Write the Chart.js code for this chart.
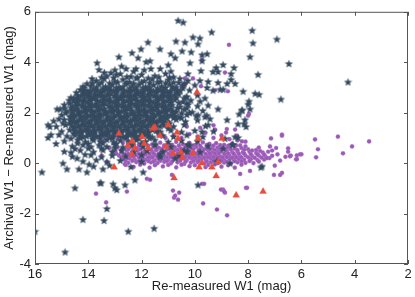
<!DOCTYPE html>
<html>
<head>
<meta charset="utf-8">
<script src="https://cdn.jsdelivr.net/npm/chart.js@4.4.0/dist/chart.umd.min.js"></script>
<style>
  html, body { margin: 0; padding: 0; background: #fff; }
  #plot { display: block; }
</style>
</head>
<body>
<canvas id="plot" width="415" height="297"></canvas>
<script>
// W1 photometry comparison: archival vs re-measured magnitudes
// three groups: stars (dark), re-measured sources (purple), flagged (red triangles)

const xTicks = [16, 14, 12, 10, 8, 6, 4, 2];
const yTicks = [-4, -2, 0, 2, 4, 6];
const xTitle = 'Re-measured W1 (mag)';
const yTitle = 'Archival W1 \u2212 Re-measured W1 (mag)';

// sparse stars around the main cloud
const starOutliers = [
  [10.63,5.66],[10.44,5.59],[9.37,5.2],[7.85,5.27],[7.82,4.77],[6.92,4.92],[10.71,4.84],[10.37,4.8],[10.07,5.0],[9.81,4.96],
  [9.88,4.73],[11.31,4.53],[10.48,4.45],[10.9,4.34],[10.74,4.18],[9.73,4.3],[9.54,4.34],[10.14,4.41],[10.18,3.98],[9.73,4.06],
  [8.94,3.91],[9.2,3.79],[8.53,3.79],[8.64,3.55],[9.32,3.63],[9.13,3.63],[7.93,4.22],[6.47,3.95],[7.63,3.52],[4.25,3.22],
  [8.64,3.32],[8.49,3.16],[8.79,3.16],[9.13,3.2],[8.94,2.93],[9.05,2.93],[9.5,3.24],[9.81,3.28],[9.54,3.0],[9.32,2.89],
  [8.19,2.85],[7.74,2.77],[7.59,2.73],[6.77,2.54],[7.97,2.46],[8.23,2.1],[8.34,1.95],[8.12,1.72],[8.79,1.72],[8.15,1.56],
  [8.38,1.02],[8.87,0.98],[9.62,2.58],[10.33,2.62],[10.44,3.09],[10.56,3.36],[10.26,3.28],[10.26,3.55],[9.77,3.67],
  [11.76,4.8],[12.02,4.53],[12.36,4.38],[12.13,4.18],[12.85,4.22],[11.83,4.02],[11.68,4.06],[13.67,3.98],[13.6,3.71],[11.65,3.75],
  [12.21,3.75],[12.58,3.75],[13.15,3.59],[12.95,3.52],[13.86,3.36],[14.05,3.16],[14.2,3.05],[14.01,2.81],[14.54,2.58],[14.72,2.5],
  [15.74,-0.35],[15.17,2.15],[15.06,2.15],[14.9,2.18],[15.51,1.52],[15.44,1.45],[15.51,1.02],[15.21,0.78],[15.4,1.13],[15.1,1.13],
  [15.1,1.76],[14.69,1.84],[14.95,0.0],[14.8,-0.23],[14.65,0.43],[14.42,0.2],[14.35,-0.23],[14.05,-0.35],[14.12,0.35],[13.97,-0.04],
  [13.45,-0.23],[13.52,-0.78],[14.5,-0.98],[13.0,-0.98],[12.25,-0.66],[11.94,-0.35],[13.07,-0.82],[12.93,-1.05],[12.62,-0.86],[13.56,-0.78],
  [14.2,-2.23],[13.41,-2.27],[13.3,-1.8],[14.87,-3.52],[16.0,-2.7],[12.5,-2.7],[11.53,-2.58],
  [9.13,2.15],[8.23,2.11],[7.93,2.15],[8.0,2.34],[8.38,1.56],[8.08,1.45],[8.49,1.05],[8.6,0.74],[7.48,-0.12],[9.17,0.08],
  [8.68,0.0],[9.43,1.76],[9.62,1.84],[9.88,1.91],[9.5,1.52],[9.73,1.25],[10.26,0.74],[10.29,0.47],[10.74,0.2],[11.31,0.35],
  [9.88,-0.86],[8.94,0.59],[8.57,0.74],[7.52,-0.16],
  [13.0,3.7],[12.3,3.65],[11.3,3.75],[11.0,3.9],[10.9,3.65],[12.75,3.85],[13.4,3.6],[11.9,3.7]
];

// dense core of the star cloud
const starCore = [
  [13.3,3.46],[12.8,3.55],[12.4,3.44],[12.0,3.52],[11.5,3.47],[11.1,3.56],[10.8,3.42],
  [13.7,3.28],[13.4,3.36],[13.0,3.25],[12.7,3.33],[12.45,3.22],[12.2,3.38],[11.9,3.27],[11.6,3.34],[11.3,3.24],[11.0,3.31],[10.6,3.2],
  [13.9,3.08],[13.6,3.14],[13.35,3.04],[13.1,3.12],[12.85,3.02],[12.6,3.15],[12.35,3.06],[12.1,3.13],[11.85,3.03],[11.55,3.11],[11.25,3.05],[10.95,3.14],[10.7,3.02],[10.0,3.1],
  [14.3,2.92],[14.05,2.86],[13.8,2.95],[13.55,2.84],[13.3,2.93],[13.05,2.87],[12.8,2.96],[12.55,2.85],[12.3,2.91],[12.05,2.83],[11.8,2.94],[11.55,2.86],[11.3,2.92],[11.05,2.84],[10.8,2.95],[10.55,2.87],[10.2,2.9],
  [14.4,2.68],[14.15,2.74],[13.9,2.64],[13.65,2.72],[13.4,2.66],[13.15,2.75],[12.9,2.63],[12.65,2.71],[12.4,2.67],[12.15,2.76],[11.9,2.65],[11.65,2.73],[11.4,2.62],[11.15,2.7],[10.9,2.66],[10.6,2.74],[10.3,2.64],[9.9,2.7],
  [14.55,2.47],[14.3,2.53],[14.05,2.44],[13.8,2.55],[13.55,2.46],[13.3,2.52],[13.05,2.43],[12.8,2.56],[12.55,2.48],[12.3,2.54],[12.05,2.45],[11.8,2.51],[11.55,2.42],[11.3,2.55],[11.05,2.47],[10.75,2.53],[10.45,2.44],[10.15,2.5],[9.8,2.46],
  [14.9,2.32],[14.6,2.26],[14.35,2.34],[14.1,2.24],[13.85,2.31],[13.6,2.27],[13.35,2.35],[13.1,2.23],[12.85,2.33],[12.6,2.25],[12.35,2.36],[12.1,2.28],[11.85,2.32],[11.6,2.22],[11.35,2.34],[11.1,2.26],[10.85,2.31],[10.55,2.24],[10.25,2.33],[9.9,2.27],[9.5,2.3],
  [14.8,2.06],[14.5,2.13],[14.25,2.04],[14.0,2.12],[13.75,2.05],[13.5,2.14],[13.25,2.03],[13.0,2.11],[12.75,2.06],[12.5,2.15],[12.25,2.02],[12.0,2.1],[11.75,2.07],[11.5,2.13],[11.25,2.04],[11.0,2.12],[10.7,2.05],[10.4,2.14],[10.1,2.03],[9.7,2.09],
  [15.0,1.92],[14.65,1.86],[14.4,1.94],[14.15,1.84],[13.9,1.91],[13.65,1.87],[13.4,1.95],[13.15,1.83],[12.9,1.93],[12.65,1.85],[12.4,1.96],[12.15,1.88],[11.9,1.92],[11.65,1.82],[11.4,1.94],[11.15,1.86],[10.9,1.91],[10.6,1.84],[10.3,1.93],[9.95,1.87],[9.55,1.9],
  [15.3,1.68],[14.9,1.73],[14.55,1.65],[14.3,1.72],[14.05,1.64],[13.8,1.74],[13.55,1.66],[13.3,1.71],[13.05,1.63],[12.8,1.75],[12.55,1.67],[12.3,1.72],[12.05,1.64],[11.8,1.73],[11.55,1.66],[11.3,1.7],[11.0,1.63],[10.7,1.74],[10.35,1.66],[9.9,1.71],
  [15.2,1.46],[14.85,1.53],[14.5,1.44],[14.25,1.52],[14.0,1.45],[13.75,1.54],[13.5,1.43],[13.25,1.51],[13.0,1.47],[12.75,1.55],[12.5,1.42],[12.25,1.5],[12.0,1.46],[11.75,1.53],[11.45,1.44],[11.15,1.51],[10.8,1.46],[10.4,1.53],[9.6,1.48],
  [15.0,1.27],[14.7,1.33],[14.4,1.24],[14.15,1.32],[13.9,1.26],[13.65,1.35],[13.4,1.23],[13.15,1.31],[12.9,1.27],[12.65,1.34],[12.4,1.22],[12.15,1.3],[11.9,1.26],[11.6,1.33],[11.3,1.25],[10.9,1.31],[10.5,1.24],[10.0,1.3],[9.3,1.27],
  [14.8,1.08],[14.5,1.12],[14.2,1.04],[13.95,1.13],[13.7,1.06],[13.45,1.11],[13.2,1.03],[12.95,1.14],[12.7,1.05],[12.45,1.12],[12.2,1.07],[11.9,1.13],[11.6,1.04],[11.2,1.1],[10.8,1.06],[10.3,1.12],[9.7,1.05],
  [14.9,0.88],[14.4,0.93],[14.1,0.85],[13.8,0.92],[13.55,0.86],[13.3,0.94],[13.05,0.84],[12.8,0.91],[12.5,0.87],[12.2,0.93],[11.85,0.86],[11.5,0.92],[11.0,0.85],[10.5,0.9],[9.9,0.87],
  [14.6,0.68],[14.2,0.73],[13.9,0.65],[13.6,0.72],[13.3,0.66],[13.0,0.74],[12.7,0.64],[12.35,0.71],[11.95,0.67],[11.5,0.73],[10.9,0.66],[10.2,0.71],[9.5,0.68],
  [14.9,0.47],[14.3,0.52],[13.8,0.45],[13.45,0.53],[13.1,0.46],[12.75,0.51],[12.3,0.44],[11.8,0.5],[11.2,0.47],[10.4,0.52],[9.8,0.45],
  [14.6,0.27],[13.9,0.33],[13.5,0.25],[13.1,0.31],[12.6,0.28],[12.0,0.33],[11.3,0.26],[10.6,0.3],
  [14.2,0.08],[13.7,0.13],[13.3,0.05],[12.8,0.11],[12.0,0.07],
  [13.8,-0.12],[13.2,-0.08],[12.4,-0.14]
];

// stars filling the gaps between the core rows
const starFill = [
  [14.2,2.79],[13.75,2.82],[13.25,2.78],[12.7,2.81],[12.2,2.77],[11.7,2.83],[11.2,2.8],
  [14.4,2.6],[13.95,2.57],[13.45,2.62],[12.95,2.58],[12.45,2.63],[11.95,2.59],[11.45,2.61],[10.95,2.57],
  [14.7,2.38],[14.2,2.41],[13.7,2.37],[13.2,2.42],[12.7,2.39],[12.2,2.36],[11.7,2.41],[11.2,2.38],[10.6,2.4],
  [14.4,2.18],[13.9,2.21],[13.4,2.17],[12.9,2.2],[12.4,2.22],[11.9,2.18],[11.4,2.21],[10.9,2.17],
  [14.6,1.99],[14.1,2.01],[13.6,1.98],[13.1,2.02],[12.6,1.99],[12.1,2.01],[11.6,1.97],[11.1,2.02],[10.5,1.99],
  [14.3,1.79],[13.8,1.81],[13.3,1.78],[12.8,1.82],[12.3,1.79],[11.8,1.81],[11.3,1.78],[10.8,1.8],
  [14.7,1.6],[14.2,1.58],[13.7,1.61],[13.2,1.59],[12.7,1.62],[12.2,1.58],[11.7,1.6],[11.2,1.61],
  [14.3,1.39],[13.8,1.41],[13.3,1.38],[12.8,1.42],[12.3,1.39],[11.8,1.41],
  [14.0,1.2],[13.5,1.18],[13.0,1.21],[12.5,1.19],[12.0,1.2],
  [13.5,3.41],[13.05,3.39],[12.55,3.43],[12.15,3.4],[11.75,3.38],[11.35,3.42],[10.95,3.4],
  [13.85,3.19],[13.5,3.21],[13.2,3.18],[12.9,3.22],[12.55,3.2],[12.3,3.17],[12.0,3.21],[11.7,3.19],[11.4,3.22],[11.1,3.18],[10.8,3.21],[10.4,3.16],
  [14.15,3.0],[13.7,3.02],[13.45,2.98],[13.2,3.01],[12.95,2.99],[12.7,3.03],[12.45,2.98],[12.2,3.01],[11.95,2.99],[11.7,3.02],[11.4,2.98],[11.1,3.0],[10.85,3.03],[10.45,2.99],
  [14.45,2.81],[13.95,2.78],[13.5,2.8],[12.95,2.79],[12.45,2.82],[11.95,2.78],[11.45,2.81],[10.95,2.79],[10.7,2.8],
  [14.65,2.61],[14.15,2.59],[13.7,2.6],[13.2,2.58],[12.7,2.61],[12.2,2.6],[11.7,2.59],[11.2,2.62],[10.7,2.6],[10.4,2.58],
  [14.45,2.4],[13.95,2.38],[13.45,2.41],[12.95,2.39],[12.45,2.4],[11.95,2.42],[11.45,2.39],[10.9,2.41],[10.3,2.38],
  [14.65,2.2],[14.15,2.19],[13.65,2.21],[13.15,2.18],[12.65,2.2],[12.15,2.19],[11.65,2.21],[11.15,2.18],[10.65,2.2],[10.3,2.19],
  [14.85,2.0],[14.35,1.98],[13.85,2.02],[13.35,1.99],[12.85,2.01],[12.35,1.98],[11.85,2.0],[11.35,2.01],[10.8,1.98],[10.2,2.0],
  [14.55,1.8],[14.05,1.82],[13.55,1.79],[13.05,1.81],[12.55,1.8],[12.05,1.78],[11.55,1.81],[11.05,1.79],[10.5,1.8],
  [14.95,1.59],[14.45,1.61],[13.95,1.6],[13.45,1.58],[12.95,1.61],[12.45,1.6],[11.95,1.59],[11.45,1.6],[10.95,1.58],
  [14.55,1.4],[14.05,1.38],[13.55,1.41],[13.05,1.39],[12.55,1.41],[12.05,1.38],[11.55,1.4],[11.0,1.39],
  [14.55,1.19],[14.25,1.21],[13.75,1.2],[13.25,1.19],[12.75,1.21],[12.25,1.18],[11.75,1.2],[11.35,1.19],
  [14.65,0.99],[14.3,1.01],[13.85,0.98],[13.55,1.0],[13.1,0.99],[12.6,1.01],[12.1,0.98],[11.7,1.0],
  [14.4,0.8],[14.0,0.78],[13.45,0.81],[12.95,0.79],[12.45,0.8],[12.0,0.79],
  [14.5,0.58],[14.0,0.6],[13.5,0.59],[13.0,0.61]
];

// darkest part of the cloud, between the other rows
const starDense = [
  [14.17,2.9],[13.92,2.88],[13.67,2.91],[13.42,2.89],[13.17,2.92],[12.92,2.88],[12.67,2.9],[12.42,2.87],[12.17,2.91],[11.92,2.89],[11.67,2.92],[11.42,2.88],[11.17,2.9],[10.92,2.87],[10.67,2.91],
  [14.27,2.7],[14.02,2.68],[13.77,2.71],[13.52,2.69],[13.27,2.72],[13.02,2.68],[12.77,2.7],[12.52,2.67],[12.27,2.71],[12.02,2.69],[11.77,2.72],[11.52,2.68],[11.27,2.7],[11.02,2.67],[10.77,2.71],
  [14.42,2.5],[14.17,2.48],[13.92,2.51],[13.67,2.49],[13.42,2.52],[13.17,2.48],[12.92,2.5],[12.67,2.47],[12.42,2.51],[12.17,2.49],[11.92,2.52],[11.67,2.48],[11.42,2.5],[11.17,2.47],[10.9,2.51],
  [14.47,2.3],[14.22,2.28],[13.97,2.31],[13.72,2.29],[13.47,2.32],[13.22,2.28],[12.97,2.3],[12.72,2.27],[12.47,2.31],[12.22,2.29],[11.97,2.32],[11.72,2.28],[11.47,2.3],[11.22,2.27],[10.97,2.31],
  [14.62,2.1],[14.37,2.08],[14.12,2.11],[13.87,2.09],[13.62,2.12],[13.37,2.08],[13.12,2.1],[12.87,2.07],[12.62,2.11],[12.37,2.09],[12.12,2.12],[11.87,2.08],[11.62,2.1],[11.37,2.07],[11.12,2.11],[10.85,2.09],
  [14.52,1.9],[14.27,1.88],[14.02,1.91],[13.77,1.89],[13.52,1.92],[13.27,1.88],[13.02,1.9],[12.77,1.87],[12.52,1.91],[12.27,1.89],[12.02,1.92],[11.77,1.88],[11.52,1.9],[11.27,1.87],[11.02,1.91],[10.75,1.89],
  [14.67,1.7],[14.42,1.68],[14.17,1.71],[13.92,1.69],[13.67,1.72],[13.42,1.68],[13.17,1.7],[12.92,1.67],[12.67,1.71],[12.42,1.69],[12.17,1.72],[11.92,1.68],[11.67,1.7],[11.42,1.67],[11.15,1.71],
  [14.62,1.5],[14.37,1.48],[14.12,1.51],[13.87,1.49],[13.62,1.52],[13.37,1.48],[13.12,1.5],[12.87,1.47],[12.62,1.51],[12.37,1.49],[12.12,1.52],[11.87,1.48],[11.6,1.5],[11.3,1.47],
  [14.52,1.3],[14.27,1.28],[14.02,1.31],[13.77,1.29],[13.52,1.32],[13.27,1.28],[13.02,1.3],[12.77,1.27],[12.52,1.31],[12.27,1.29],[12.02,1.32],[11.75,1.28],[11.45,1.3],
  [14.32,1.1],[14.07,1.08],[13.82,1.11],[13.57,1.09],[13.32,1.12],[13.07,1.08],[12.82,1.1],[12.57,1.07],[12.32,1.11],[12.05,1.09],[11.75,1.1]
];

// purple band of re-measured sources
const purpleBand = [
  [12.7,0.8],[12.3,0.76],[11.9,0.83],[11.6,0.74],[11.3,0.81],[11.0,0.77],[10.7,0.84],[10.45,0.75],[10.2,0.8],[9.95,0.73],[9.7,0.82],[9.45,0.76],[9.2,0.79],[8.9,0.72],[8.6,0.77],[8.3,0.7],
  [12.9,0.63],[12.6,0.59],[12.4,0.66],[12.15,0.6],[11.95,0.64],[11.75,0.57],[11.55,0.65],[11.35,0.61],[11.15,0.67],[10.95,0.58],[10.75,0.63],[10.55,0.6],[10.35,0.66],[10.15,0.59],[9.95,0.64],[9.75,0.61],[9.55,0.65],[9.35,0.58],[9.15,0.62],[8.95,0.6],[8.75,0.63],[8.5,0.57],[8.25,0.6],[8.0,0.55],[7.7,0.52],
  [13.0,0.47],[12.75,0.44],[12.55,0.49],[12.35,0.45],[12.15,0.5],[11.95,0.43],[11.8,0.48],[11.6,0.46],[11.45,0.51],[11.25,0.44],[11.1,0.48],[10.9,0.45],[10.75,0.5],[10.55,0.43],[10.4,0.47],[10.2,0.49],[10.05,0.44],[9.85,0.48],[9.7,0.45],[9.5,0.5],[9.35,0.43],[9.15,0.47],[9.0,0.45],[8.8,0.49],[8.6,0.44],[8.4,0.46],[8.2,0.43],[7.95,0.45],[7.7,0.4],[7.45,0.42],
  [12.85,0.3],[12.6,0.33],[12.4,0.28],[12.2,0.32],[12.0,0.29],[11.85,0.34],[11.65,0.27],[11.5,0.31],[11.3,0.33],[11.15,0.28],[10.95,0.32],[10.8,0.29],[10.6,0.34],[10.45,0.27],[10.25,0.31],[10.1,0.3],[9.9,0.33],[9.75,0.28],[9.55,0.32],[9.4,0.29],[9.2,0.31],[9.05,0.27],[8.85,0.32],[8.7,0.29],[8.5,0.31],[8.3,0.27],[8.1,0.3],[7.85,0.28],[7.6,0.3],[7.35,0.26],[7.1,0.29],
  [12.7,0.15],[12.45,0.18],[12.25,0.13],[12.05,0.17],[11.85,0.14],[11.7,0.19],[11.5,0.12],[11.35,0.16],[11.15,0.18],[11.0,0.13],[10.8,0.17],[10.65,0.14],[10.45,0.19],[10.3,0.12],[10.1,0.16],[9.95,0.15],[9.75,0.18],[9.6,0.13],[9.4,0.17],[9.25,0.14],[9.05,0.16],[8.9,0.12],[8.7,0.17],[8.55,0.14],[8.35,0.16],[8.15,0.13],[7.9,0.15],[7.65,0.12],[7.4,0.14],
  [12.5,0.01],[12.2,0.04],[11.9,-0.02],[11.65,0.03],[11.4,0.0],[11.15,0.05],[10.9,-0.01],[10.65,0.03],[10.4,-0.03],[10.15,0.02],[9.9,0.04],[9.65,-0.02],[9.4,0.03],[9.15,0.0],[8.9,0.02],[8.65,-0.01],[8.4,0.03],[8.1,0.01],[7.8,0.0],
  [12.3,-0.15],[11.7,-0.18],[11.2,-0.13],[10.7,-0.17],[10.2,-0.12],[9.6,-0.16],[9.0,-0.14],[8.5,-0.18],
  [12.5,0.7],[12.1,0.72],[11.75,0.69],[11.45,0.71],[11.15,0.7],[10.85,0.72],[10.6,0.69],[10.3,0.71],[10.05,0.7],[9.8,0.68],[9.55,0.72],[9.3,0.69],[9.05,0.71],[8.75,0.68],[8.45,0.7],[8.1,0.66],
  [12.75,0.54],[12.5,0.55],[12.3,0.53],[12.05,0.55],[11.85,0.52],[11.65,0.55],[11.45,0.54],[11.25,0.56],[11.05,0.53],[10.85,0.55],[10.65,0.52],[10.45,0.55],[10.25,0.54],[10.05,0.56],[9.85,0.53],[9.65,0.55],[9.45,0.54],[9.25,0.52],[9.05,0.55],[8.85,0.53],[8.65,0.55],[8.4,0.52],[8.15,0.53],[7.85,0.5],[7.55,0.48],
  [12.95,0.38],[12.7,0.39],[12.5,0.37],[12.3,0.39],[12.1,0.38],[11.9,0.4],[11.7,0.37],[11.55,0.39],[11.35,0.38],[11.2,0.4],[11.0,0.37],[10.85,0.39],[10.65,0.38],[10.5,0.4],[10.3,0.37],[10.15,0.39],[9.95,0.38],[9.8,0.4],[9.6,0.37],[9.45,0.39],[9.25,0.38],[9.1,0.4],[8.9,0.37],[8.75,0.39],[8.55,0.38],[8.35,0.37],[8.15,0.38],[7.9,0.36],[7.65,0.35],[7.4,0.34],
  [12.75,0.23],[12.55,0.22],[12.3,0.24],[12.1,0.22],[11.95,0.24],[11.75,0.23],[11.6,0.22],[11.4,0.24],[11.25,0.22],[11.05,0.23],[10.9,0.24],[10.7,0.22],[10.55,0.23],[10.35,0.24],[10.2,0.22],[10.0,0.23],[9.85,0.24],[9.65,0.22],[9.5,0.23],[9.3,0.24],[9.15,0.22],[8.95,0.23],[8.8,0.24],[8.6,0.22],[8.45,0.23],[8.25,0.22],[8.0,0.23],[7.75,0.21],[7.5,0.22],[7.2,0.2],
  [12.6,0.08],[12.35,0.09],[12.1,0.07],[11.95,0.09],[11.75,0.08],[11.55,0.06],[11.3,0.09],[11.05,0.08],[10.85,0.07],[10.55,0.09],[10.35,0.06],[10.05,0.08],[9.85,0.09],[9.55,0.07],[9.3,0.08],[9.0,0.09],[8.8,0.06],[8.5,0.08],[8.25,0.07],[7.95,0.08],[7.6,0.06],
  [12.6,-0.07],[12.05,-0.06],[11.5,-0.08],[11.0,-0.07],[10.5,-0.06],[10.0,-0.08],[9.5,-0.07],[9.25,-0.05],[8.75,-0.08],[8.25,-0.06]
];

// purple points away from the band
const purpleScatter = [
  [13.4,0.9],[13.2,0.6],[13.5,0.3],[13.3,0.05],[13.1,1.1],[12.9,0.95],[12.6,1.05],[12.3,1.0],[12.0,1.1],[11.7,1.05],
  [11.4,1.2],[11.1,1.0],[10.8,1.1],[10.5,1.0],[10.2,1.15],[9.9,1.05],[9.6,1.2],[9.3,1.0],[9.0,1.1],[8.7,0.95],
  [8.4,0.9],[8.1,0.85],[9.8,1.4],[9.3,1.5],[8.8,1.35],[10.3,1.45],
  [8.72,4.69],[9.73,4.1],[8.87,3.59],[10.07,3.36],[10.37,3.36],[10.33,3.16],[9.77,3.05],[9.24,2.89],[8.76,2.85],[10.48,3.05],
  [7.97,1.95],[8.0,1.88],[8.49,1.33],[8.83,1.21],[9.24,1.33],[7.14,0.98],[6.73,1.13],[8.23,0.86],[8.42,1.09],
  [7.3,0.2],[7.1,0.5],[6.9,0.35],[6.8,0.1],[7.0,-0.1],[6.6,0.25],[6.5,0.45],[6.4,0.3],[6.2,0.15],[6.0,0.35],
  [6.17,0.31],[6.43,0.27],[6.5,0.59],[6.73,1.09],[5.49,0.94],[4.63,1.05],[3.46,0.86],[4.1,0.66],[5.38,0.55],[4.44,0.39],
  [5.45,0.23],[6.73,-0.39],[6.8,-0.47],[7.03,-0.47],[7.93,-0.31],[8.04,-0.98],[8.3,-0.43],[8.94,-1.05],[8.87,-1.17],[9.69,-1.6],
  [9.17,-1.84],[8.79,-2.07],[9.73,-0.82],[9.02,-1.05],[8.9,-1.13],[8.08,-0.98],[13.71,-1.21],[13.33,-1.56],[12.55,-1.13],[10.82,-1.09],
  [10.78,-1.37],[10.63,-1.45],[10.59,-1.17],[11.8,-0.62],[10.86,-0.47],[10.74,-1.29],[9.65,-0.82],[12.62,-0.04],[11.68,-0.66],
  [7.18,0.66],[6.05,0.35],[6.17,0.16],[7.6,0.62],[7.25,0.45],[6.95,0.6]
];

// red triangles
const redPoints = [
  [13.03,-0.16],[12.85,1.17],[12.51,0.7],[12.36,0.86],[12.25,0.59],[12.36,0.35],[11.98,1.05],[11.9,0.78],[11.57,1.37],[11.76,0.59],
  [11.5,1.41],[11.0,1.52],[11.31,1.09],[10.67,1.21],[10.63,0.98],[11.08,0.66],[10.82,0.39],[10.52,0.43],[10.48,0.2],[10.07,0.39],
  [9.88,0.98],[9.73,0.0],[9.84,-0.16],[9.36,-0.16],[8.98,0.98],[9.13,0.04],[10.78,-0.59],[9.2,-0.51],[7.44,-1.13],[8.45,-1.27],
  [9.92,2.81]
];

const toXY = arr => arr.map(p => ({ x: p[0], y: p[1] }));

function makeStar(){
  const c = document.createElement('canvas');
  c.width = 9; c.height = 9;
  const g = c.getContext('2d');
  g.beginPath();
  for (let i = 0; i < 10; i++) {
    const r = i % 2 === 0 ? 4.0 : 1.8;
    const a = -Math.PI / 2 + i * Math.PI / 5;
    const px = 4.5 + r * Math.cos(a), py = 4.9 + r * Math.sin(a);
    if (i === 0) g.moveTo(px, py); else g.lineTo(px, py);
  }
  g.closePath();
  g.fillStyle = '#34495e';
  g.fill();
  g.strokeStyle = 'rgba(70,90,110,0.6)';
  g.lineWidth = 0.4;
  g.stroke();
  return c;
}

// box with inward ticks on all four sides
const framePlugin = {
  id: 'frame',
  afterDatasetsDraw(chart){
    const { ctx, chartArea: a, scales } = chart;
    ctx.save();
    ctx.strokeStyle = '#555';
    ctx.lineWidth = 1;
    ctx.strokeRect(a.left + 0.5, a.top + 0.5, a.right - a.left - 1, a.bottom - a.top - 1);
    ctx.beginPath();
    xTicks.forEach(v => {
      const px = Math.round(scales.x.getPixelForValue(v)) + 0.5;
      ctx.moveTo(px, a.bottom); ctx.lineTo(px, a.bottom - 4);
      ctx.moveTo(px, a.top); ctx.lineTo(px, a.top + 4);
    });
    yTicks.forEach(v => {
      const py = Math.round(scales.y.getPixelForValue(v)) + 0.5;
      ctx.moveTo(a.left, py); ctx.lineTo(a.left + 4, py);
      ctx.moveTo(a.right, py); ctx.lineTo(a.right - 4, py);
    });
    ctx.stroke();
    ctx.restore();
  }
};

const font = { family: '"Liberation Sans", Arial, sans-serif', size: 13 };

new Chart(document.getElementById('plot'), {
  type: 'scatter',
  data: {
    datasets: [
      {
        label: 'red',
        data: toXY(redPoints),
        pointStyle: 'triangle',
        pointRadius: 4,
        backgroundColor: '#e74c3c',
        borderColor: 'rgba(231,76,60,0.6)',
        borderWidth: 0.5
      },
      {
        label: 'stars',
        data: toXY(starCore.concat(starFill, starDense, starOutliers)),
        pointStyle: makeStar(),
        pointRadius: 4
      },
      {
        label: 'purple',
        data: toXY(purpleBand.concat(purpleScatter)),
        pointRadius: 2.1,
        backgroundColor: '#9b59b6',
        borderColor: 'rgba(175,125,200,0.7)',
        borderWidth: 0.5
      }
    ]
  },
  options: {
    responsive: false,
    animation: false,
    layout: { padding: { top: 8, right: 7, left: 0, bottom: 0 } },
    plugins: { legend: { display: false }, tooltip: { enabled: false } },
    scales: {
      x: {
        type: 'linear',
        min: 2, max: 16,
        reverse: true,
        grid: { display: false, drawTicks: false },
        border: { display: false },
        ticks: { stepSize: 2, padding: 3, color: '#222', font, maxRotation: 0 },
        title: { display: true, text: xTitle, color: '#222', font, padding: { top: 0, bottom: 3 } },
        afterFit: s => { s.height = 33; }
      },
      y: {
        type: 'linear',
        min: -4, max: 6,
        grid: { display: false, drawTicks: false },
        border: { display: false },
        ticks: { stepSize: 2, padding: 4, color: '#222', font },
        title: { display: true, text: yTitle, color: '#222', font, padding: { top: 2, bottom: 0 } },
        afterFit: s => { s.width = 35; }
      }
    }
  },
  plugins: [framePlugin]
});
</script>
</body>
</html>
